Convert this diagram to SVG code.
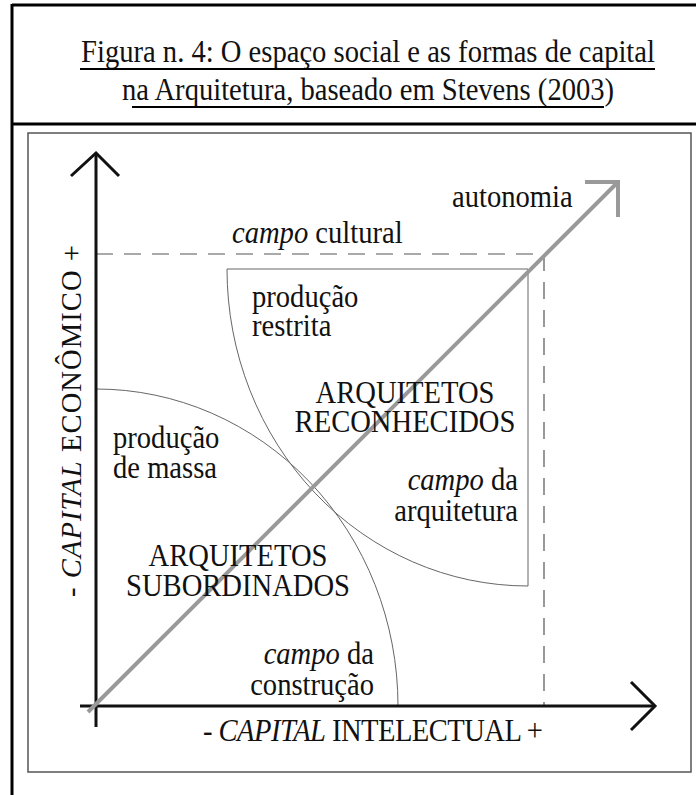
<svg xmlns="http://www.w3.org/2000/svg" width="696" height="795" viewBox="0 0 696 795">
<style>
text { font-family: "Liberation Serif", "Times New Roman", serif; fill: #111; font-size: 28.6px; }
.it { font-style: italic; }
.frame { stroke: #000; stroke-width: 3; fill: none; }
.axis { stroke: #111; stroke-width: 3; fill: none; }
.thin { stroke: #666; stroke-width: 1; fill: none; }
.dash { stroke: #555; stroke-width: 1.2; fill: none; stroke-dasharray: 17 11; }
.diag { stroke: #999; stroke-width: 4; fill: none; }
</style>
<rect width="696" height="795" fill="#fff"/>
<g id="frame">
  <line class="frame" x1="12" y1="5" x2="696" y2="5"/>
  <line class="frame" x1="12" y1="124" x2="696" y2="124"/>
  <line class="frame" x1="12" y1="4" x2="12" y2="795"/>
  <rect x="28" y="133" width="663" height="639" fill="none" stroke="#555" stroke-width="1.5"/>
</g>
<g id="title">
  <text transform="translate(368,62) scale(1,1.08)" text-anchor="middle"><tspan x="0" y="0">Figura n. 4: O espaço social e as formas de capital</tspan><tspan x="0" dy="35.2">na Arquitetura, baseado em Stevens (2003)</tspan></text>
  <line x1="80" y1="69" x2="655" y2="69" stroke="#000" stroke-width="2"/>
  <line x1="132" y1="107" x2="604" y2="107" stroke="#000" stroke-width="2"/>
</g>
<g id="connectors">
  <line class="dash" x1="96" y1="254" x2="544" y2="254"/>
  <line class="dash" x1="544" y1="254" x2="544" y2="706"/>
  <path id="campo-arquitetura" class="thin" d="M528,586 L528,269 L227,269 A301,317 0 0 0 528,586"/>
  <path id="campo-construcao" class="thin" d="M96,389 A302,317 0 0 1 398,706"/>
  <line class="axis" x1="96" y1="153" x2="96" y2="727"/>
  <polyline class="axis" points="71,176 96,153 119,176"/>
  <line class="axis" x1="80" y1="706" x2="655" y2="706"/>
  <polyline class="axis" points="631,682 655,706 631,730"/>
  <line class="diag" x1="88" y1="712" x2="617" y2="183"/>
  <polyline class="diag" points="585,182 618,182 618,217"/>
</g>
<g id="labels">
  <text transform="translate(452,207) scale(1,1.08)">autonomia</text>
  <text transform="translate(232,243) scale(1,1.08)"><tspan class="it">campo</tspan> cultural</text>
  <text transform="translate(252,307) scale(1,1.08)"><tspan x="0" y="0">produção</tspan><tspan x="0" dy="26.9">restrita</tspan></text>
  <text transform="translate(405,403) scale(1,1.08)" text-anchor="middle"><tspan x="0" y="0">ARQUITETOS</tspan><tspan x="0" dy="26.9">RECONHECIDOS</tspan></text>
  <text transform="translate(113,448) scale(1,1.08)"><tspan x="0" y="0">produção</tspan><tspan x="0" dy="27.8">de massa</tspan></text>
  <text transform="translate(518,490) scale(1,1.08)" text-anchor="end"><tspan x="0" y="0"><tspan class="it">campo</tspan> da</tspan><tspan x="0" dy="28.7">arquitetura</tspan></text>
  <text transform="translate(238,566) scale(1,1.08)" text-anchor="middle"><tspan x="0" y="0">ARQUITETOS</tspan><tspan x="0" dy="27.8">SUBORDINADOS</tspan></text>
  <text transform="translate(374,664) scale(1,1.08)" text-anchor="end"><tspan x="0" y="0"><tspan class="it">campo</tspan> da</tspan><tspan x="0" dy="28.7">construção</tspan></text>
  <text transform="translate(203,741) scale(1,1.08)" textLength="340" lengthAdjust="spacing">-  <tspan class="it">CAPITAL</tspan> INTELECTUAL  +</text>
  <text transform="translate(81,597) rotate(-90)" textLength="352" lengthAdjust="spacing">-  <tspan class="it">CAPITAL</tspan> ECONÔMICO  +</text>
</g>
</svg>
